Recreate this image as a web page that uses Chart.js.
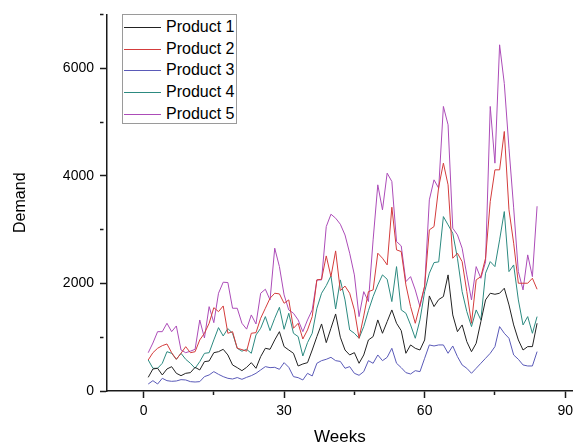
<!DOCTYPE html>
<html>
<head>
<meta charset="utf-8">
<script src="https://cdn.jsdelivr.net/npm/chart.js@4/dist/chart.umd.min.js"></script>
<style>
  html, body { margin: 0; padding: 0; background: #ffffff; overflow: hidden; }
  #wrap { position: relative; width: 578px; height: 450px; }
  #legend {
    position: absolute; left: 122px; top: 14px; width: 113px; height: 108px;
    border: 1px solid #9a9a9a; background: #ffffff; box-sizing: content-box;
    font-family: "Liberation Sans", Arial, sans-serif; font-size: 16px; color: #000;
  }
  .row { position: absolute; left: 0; height: 20px; line-height: 20px; white-space: nowrap; }
  .swatch { position: absolute; left: 1px; top: 10px; width: 37px; height: 0; border-top: 1px solid #000; }
  .lbl { position: absolute; left: 43px; top: 0; }
</style>
</head>
<body>
<div id="wrap">
  <canvas id="c" width="578" height="450"></canvas>
  <div id="legend"></div>
</div>
<script>
const seriesNames = ["Product 1", "Product 2", "Product 3", "Product 4", "Product 5"];
const seriesColors = ["#222222", "#d43c3c", "#5a5ab8", "#2c8a80", "#ac4cb8"];

const weeks = [];
for (let w = 1; w <= 84; w++) weeks.push(w);

const product1 = [
  254, 409, 422, 298, 409, 452, 329, 285, 329, 341,
  440, 391, 546, 558, 712, 731, 775, 670, 484, 434,
  378, 440, 527, 422, 639, 794, 775, 949, 1103, 825,
  762, 701, 465, 502, 527, 762, 1011, 1246, 899, 1166,
  1432, 1000, 762, 670, 713, 515, 670, 949, 1011, 1321,
  1073, 1290, 1507, 1259, 1122, 701, 856, 794, 762, 949,
  1767, 1569, 1700, 1755, 2158, 1414, 1103, 1228, 918, 731,
  887, 1290, 1693, 1817, 1798, 1817, 1910, 1600, 1228, 949,
  762, 825, 825, 1259
];
const product2 = [
  577, 712, 794, 843, 874, 712, 589, 701, 824, 712,
  730, 949, 1073, 1259, 1549, 1475, 1581, 1073, 1103, 794,
  770, 740, 1073, 1085, 1352, 1538, 1724, 1817, 1805, 1631,
  1693, 1166, 1259, 967, 1135, 1383, 2065, 2077, 2511, 2126,
  2604, 1866, 1950, 1817, 1507, 980, 1395, 1847, 1879, 2561,
  2468, 2344, 3416, 2623, 2592, 1972, 1569, 1259, 1600, 1953,
  2995, 3056, 3790, 4235, 3832, 2468, 2561, 2405, 1847, 1259,
  2065, 2126, 2468, 3521, 4111, 4111, 4824, 3367, 2747, 2003,
  2003, 2003, 2096, 1891
];
const product3 = [
  130, 192, 130, 236, 192, 180, 186, 211, 205, 174,
  167, 174, 267, 298, 360, 310, 267, 236, 223, 250,
  217, 254, 285, 329, 391, 453, 434, 440, 403, 527,
  440, 267, 248, 205, 329, 279, 515, 564, 589, 626,
  564, 550, 422, 453, 329, 292, 360, 564, 515, 670,
  564, 626, 794, 515, 434, 341, 316, 378, 360, 608,
  856, 837, 856, 856, 701, 837, 639, 484, 422, 329,
  422, 515, 608, 701, 825, 1197, 1073, 980, 670, 589,
  484, 465, 465, 732
];
const product4 = [
  577, 422, 422, 515, 731, 700, 589, 700, 589, 515,
  422, 546, 700, 712, 949, 1178, 1023, 1160, 1073, 794,
  740, 775, 701, 1042, 1166, 1383, 1122, 1352, 1556, 1147,
  1445, 1073, 1011, 651, 899, 1073, 1538, 1817, 1959, 2139,
  1525, 2065, 1693, 1135, 1073, 980, 1197, 1494, 1755, 1972,
  2158, 2077, 1662, 2312, 1507, 1445, 1228, 980, 1321, 1847,
  2189, 2387, 2400, 3242, 3088, 2933, 2468, 1847, 1476, 1197,
  1507, 1321, 2189, 2405, 2312, 2809, 3335, 2219, 2343, 1693,
  1228, 1383, 1073, 1383
];
const product5 = [
  712, 892, 1103, 1103, 1259, 1103, 1209, 762, 712, 740,
  775, 1320, 986, 1568, 1270, 1817, 2022, 2016, 1538, 1538,
  1259, 1150, 1414, 1246, 1817, 1891, 1693, 2654, 2312, 1786,
  1507, 1445, 1321, 1103, 1321, 1507, 2065, 2065, 3056, 3286,
  3212, 3100, 2900, 2561, 2158, 1383, 1847, 1662, 2809, 3832,
  3367, 4049, 3894, 2778, 2697, 2033, 2126, 1879, 1569, 1941,
  3553, 3925, 3770, 5289, 4948, 3026, 2902, 2654, 2158, 1693,
  2312, 2095, 2400, 5289, 4235, 6435, 5717, 4514, 3404, 2219,
  1879, 2530, 2126, 3434
];

const xTicks = [0, 30, 60, 90];
const yTicks = [0, 2000, 4000, 6000];

const allSeries = [product1, product2, product3, product4, product5];
const H = 450;
const FONT = "'Liberation Sans', Arial, sans-serif";

const datasets = allSeries.map((vals, i) => ({
  label: seriesNames[i],
  data: vals.map((v, k) => ({ x: weeks[k], y: v })),
  borderColor: seriesColors[i],
  backgroundColor: seriesColors[i],
  borderWidth: 1,
  pointRadius: 0,
  tension: 0,
  fill: false
}));

const chart = new Chart(document.getElementById('c'), {
  type: 'line',
  data: { datasets },
  options: {
    responsive: false,
    animation: false,
    devicePixelRatio: 1,
    layout: { padding: { left: 0, top: 13, right: 1, bottom: 0 } },
    plugins: { legend: { display: false }, tooltip: { enabled: false } },
    scales: {
      x: {
        type: 'linear',
        min: -7.8,
        max: 91.6,
        afterFit: (s) => { s.height = H - 391; },
        ticks: {
          stepSize: 15,
          includeBounds: false,
          autoSkip: false,
          maxRotation: 0,
          padding: 5,
          color: '#000',
          font: { family: FONT, size: 14 },
          callback: (v) => xTicks.includes(v) ? String(v) : ''
        },
        grid: {
          drawOnChartArea: false,
          drawTicks: true,
          tickLength: 7,
          tickColor: '#1a1a1a',
          tickWidth: 1.5,
          tickBorderDash: (ctx) => (ctx.tick && xTicks.includes(ctx.tick.value)) ? [] : [3.5, 30]
        },
        border: { display: true, color: '#1a1a1a', width: 1.5 },
        title: {
          display: true, text: 'Weeks', color: '#000',
          font: { family: FONT, size: 17 },
          padding: { top: 0, bottom: 2 }
        }
      },
      y: {
        type: 'linear',
        min: 0,
        max: 7000,
        afterFit: (s) => { s.width = 107; },
        ticks: {
          stepSize: 1000,
          includeBounds: false,
          autoSkip: false,
          padding: 6,
          color: '#000',
          font: { family: FONT, size: 14 },
          callback: (v) => yTicks.includes(v) ? String(v) : ''
        },
        grid: {
          drawOnChartArea: false,
          drawTicks: true,
          tickLength: 7,
          tickColor: '#1a1a1a',
          tickWidth: 1.5,
          tickBorderDash: (ctx) => (ctx.tick && yTicks.includes(ctx.tick.value)) ? [] : [3.5, 30]
        },
        border: { display: true, color: '#1a1a1a', width: 1.5 },
        title: {
          display: true, text: 'Demand', color: '#000',
          font: { family: FONT, size: 16 },
          padding: { top: 11, bottom: 0 }
        }
      }
    }
  }
});

// HTML legend built from the chart's datasets
const legend = document.getElementById('legend');
chart.data.datasets.forEach((ds, i) => {
  const row = document.createElement('div');
  row.className = 'row';
  row.style.top = (2 + i * 21.7) + 'px';
  const sw = document.createElement('div');
  sw.className = 'swatch';
  sw.style.borderTopColor = ds.borderColor;
  const lb = document.createElement('span');
  lb.className = 'lbl';
  lb.textContent = ds.label;
  row.appendChild(sw);
  row.appendChild(lb);
  legend.appendChild(row);
});
</script>
</body>
</html>
